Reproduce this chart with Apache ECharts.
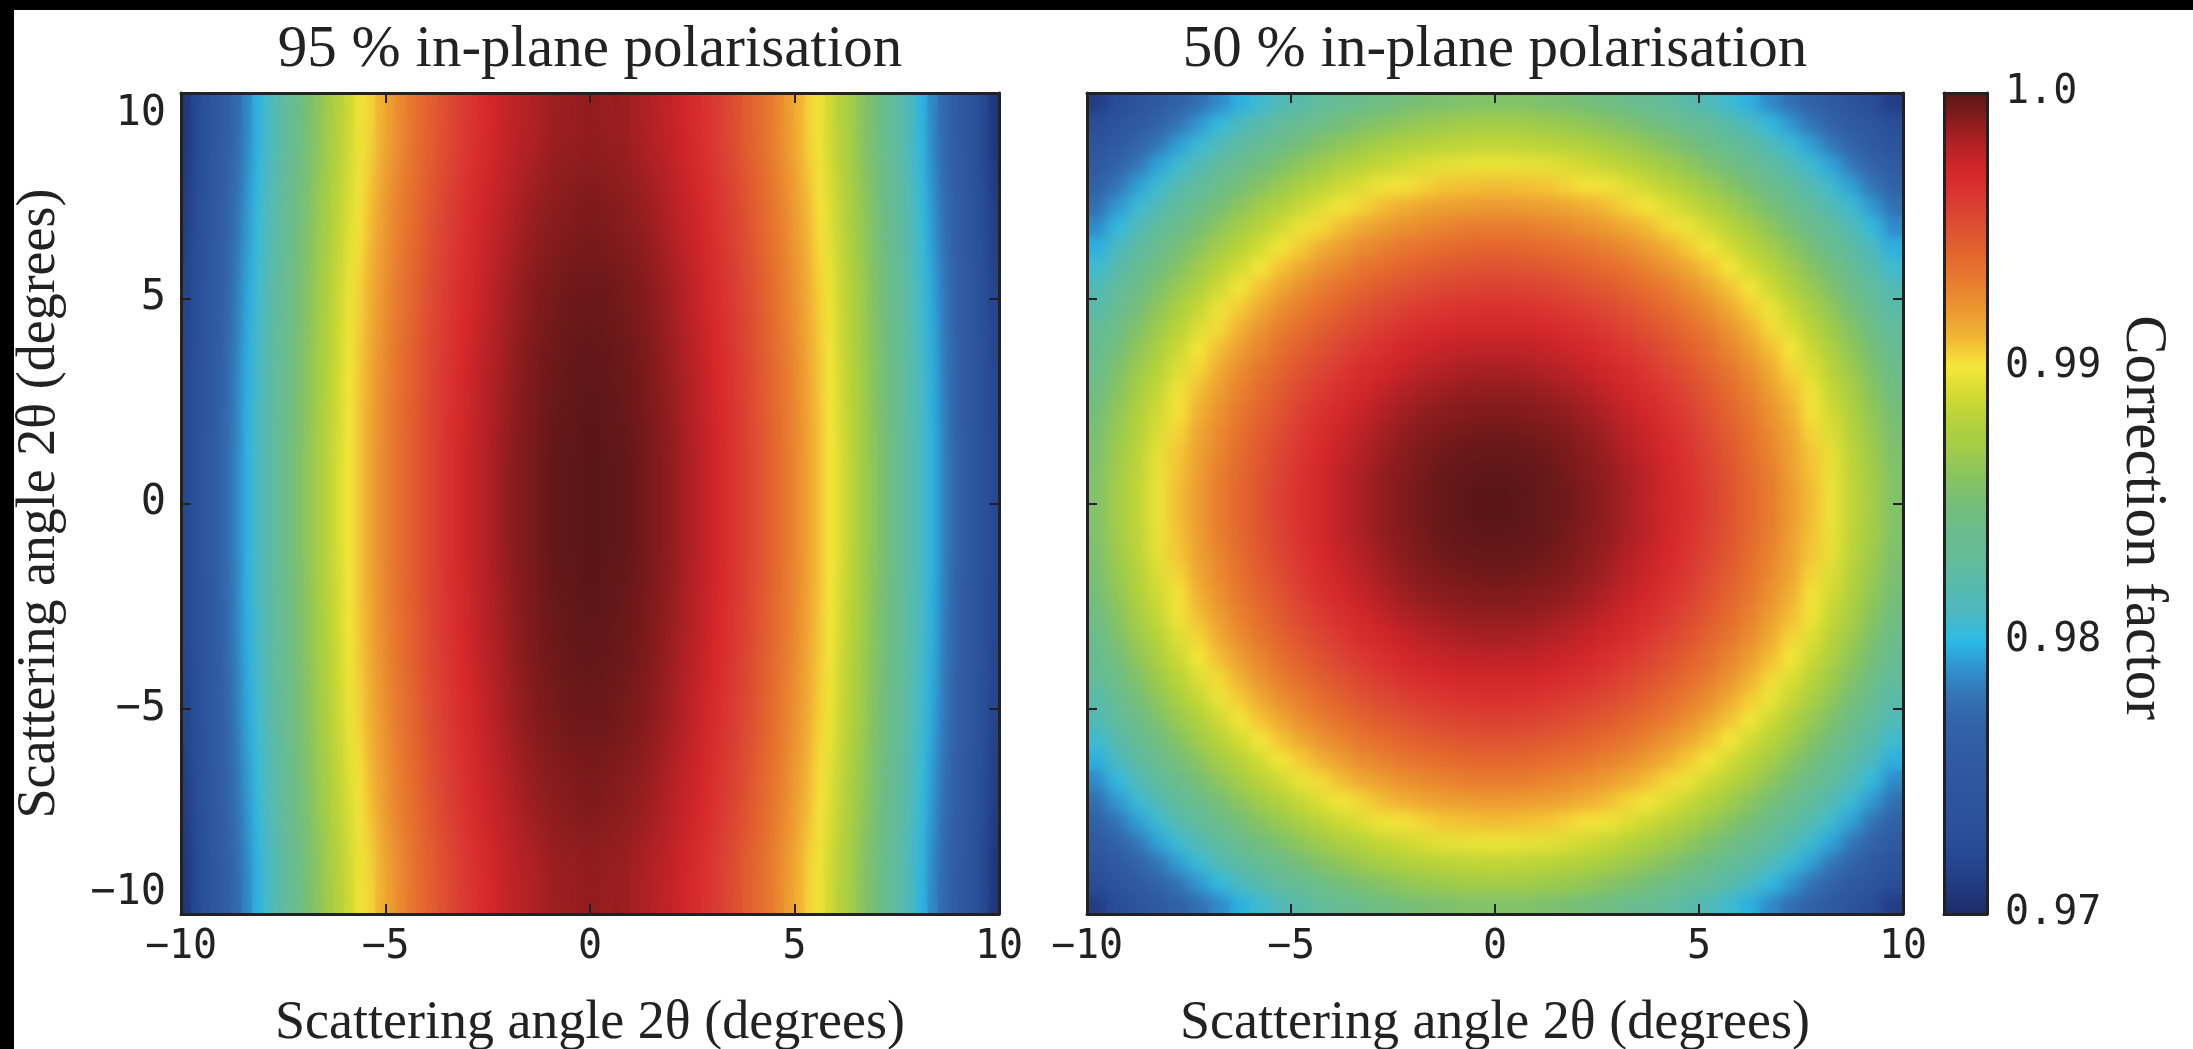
<!DOCTYPE html>
<html><head><meta charset="utf-8">
<script src="https://cdn.jsdelivr.net/npm/echarts@6/dist/echarts.min.js"></script>
<style>
html,body{margin:0;padding:0;background:#fff;overflow:hidden;}
.layer{position:absolute;left:0;top:0;width:2193px;height:1049px;}
#heatSharp{z-index:1;}
#heatBlurL{z-index:2;filter:url(#softL);clip-path:inset(93px 1194px 135px 181px);}
#heatBlurR{z-index:2;filter:url(#softR);clip-path:inset(93px 290px 135px 1087px);}
#chart{z-index:3;}
.edgeTop{position:absolute;left:0;top:0;width:2193px;height:10px;background:#000;z-index:4;}
.edgeLeft{position:absolute;left:0;top:0;width:14px;height:1049px;background:#000;z-index:4;}
</style></head>
<body>
<svg width="0" height="0" style="position:absolute;left:0;top:0">
  <defs>
    <filter id="softL" x="-5%" y="-5%" width="110%" height="110%" color-interpolation-filters="sRGB">
      <feGaussianBlur stdDeviation="4 28"/>
    </filter>
    <filter id="softR" x="-5%" y="-5%" width="110%" height="110%" color-interpolation-filters="sRGB">
      <feGaussianBlur stdDeviation="7 7"/>
    </filter>
  </defs>
</svg>
<div id="heatSharp" class="layer"></div>
<div id="heatBlurL" class="layer"></div>
<div id="heatBlurR" class="layer"></div>
<div id="chart" class="layer"></div>
<div class="edgeTop"></div><div class="edgeLeft"></div>
<script>
// ---------- data ----------
const leftTitle = '95 % in-plane polarisation';
const rightTitle = '50 % in-plane polarisation';
const axisTitle = 'Scattering angle 2\u03b8 (degrees)';
const colorbarTitle = 'Correction factor';
const axisTicks = [-10, -5, 0, 5, 10];
const colorbarTicks = [0.97, 0.98, 0.99, 1.0];

// left panel: cell centres (degrees)
const leftXCenters = [-9.875,-9.625,-9.375,-9.125,-8.875,-8.625,-8.375,-8.125,-7.875,-7.625,-7.375,-7.125,-6.875,-6.625,-6.375,-6.125,-5.875,-5.625,-5.375,-5.125,-4.875,-4.625,-4.375,-4.125,-3.875,-3.625,-3.375,-3.125,-2.875,-2.625,-2.375,-2.125,-1.875,-1.625,-1.375,-1.125,-0.875,-0.625,-0.375,-0.125,0.125,0.375,0.625,0.875,1.125,1.375,1.625,1.875,2.125,2.375,2.625,2.875,3.125,3.375,3.625,3.875,4.125,4.375,4.625,4.875,5.125,5.375,5.625,5.875,6.125,6.375,6.625,6.875,7.125,7.375,7.625,7.875,8.125,8.375,8.625,8.875,9.125,9.375,9.625,9.875];
const leftYCenters = [-9,-7,-5,-3,-1,1,3,5,7,9];
// left panel correction factor, rows from bottom (y=-9) to top (y=9)
const leftValues = [
[0.9708,0.9722,0.9736,0.9749,0.9762,0.9774,0.9786,0.9798,0.9809,0.9821,0.9831,0.9842,0.9852,0.9861,0.9871,0.9880,0.9888,0.9897,0.9904,0.9912,0.9919,0.9926,0.9933,0.9939,0.9944,0.9950,0.9955,0.9960,0.9964,0.9968,0.9972,0.9975,0.9978,0.9980,0.9982,0.9984,0.9986,0.9987,0.9987,0.9988,0.9988,0.9987,0.9987,0.9986,0.9984,0.9982,0.9980,0.9978,0.9975,0.9972,0.9968,0.9964,0.9960,0.9955,0.9950,0.9944,0.9939,0.9933,0.9926,0.9919,0.9912,0.9904,0.9897,0.9888,0.9880,0.9871,0.9861,0.9852,0.9842,0.9831,0.9821,0.9809,0.9798,0.9786,0.9774,0.9762,0.9749,0.9736,0.9722,0.9708],
[0.9713,0.9727,0.9741,0.9754,0.9767,0.9779,0.9791,0.9803,0.9814,0.9825,0.9836,0.9846,0.9856,0.9866,0.9875,0.9884,0.9893,0.9901,0.9909,0.9917,0.9924,0.9931,0.9937,0.9943,0.9949,0.9955,0.9960,0.9964,0.9969,0.9973,0.9976,0.9979,0.9982,0.9985,0.9987,0.9989,0.9990,0.9991,0.9992,0.9993,0.9993,0.9992,0.9991,0.9990,0.9989,0.9987,0.9985,0.9982,0.9979,0.9976,0.9973,0.9969,0.9964,0.9960,0.9955,0.9949,0.9943,0.9937,0.9931,0.9924,0.9917,0.9909,0.9901,0.9893,0.9884,0.9875,0.9866,0.9856,0.9846,0.9836,0.9825,0.9814,0.9803,0.9791,0.9779,0.9767,0.9754,0.9741,0.9727,0.9713],
[0.9717,0.9731,0.9744,0.9757,0.9770,0.9783,0.9795,0.9806,0.9818,0.9829,0.9840,0.9850,0.9860,0.9870,0.9879,0.9888,0.9897,0.9905,0.9913,0.9920,0.9928,0.9934,0.9941,0.9947,0.9953,0.9958,0.9963,0.9968,0.9972,0.9976,0.9980,0.9983,0.9986,0.9989,0.9991,0.9993,0.9994,0.9995,0.9996,0.9996,0.9996,0.9996,0.9995,0.9994,0.9993,0.9991,0.9989,0.9986,0.9983,0.9980,0.9976,0.9972,0.9968,0.9963,0.9958,0.9953,0.9947,0.9941,0.9934,0.9928,0.9920,0.9913,0.9905,0.9897,0.9888,0.9879,0.9870,0.9860,0.9850,0.9840,0.9829,0.9818,0.9806,0.9795,0.9783,0.9770,0.9757,0.9744,0.9731,0.9717],
[0.9719,0.9733,0.9746,0.9760,0.9772,0.9785,0.9797,0.9809,0.9820,0.9831,0.9842,0.9852,0.9862,0.9872,0.9881,0.9890,0.9899,0.9907,0.9915,0.9923,0.9930,0.9937,0.9943,0.9949,0.9955,0.9961,0.9966,0.9970,0.9975,0.9979,0.9982,0.9985,0.9988,0.9991,0.9993,0.9995,0.9996,0.9997,0.9998,0.9999,0.9999,0.9998,0.9997,0.9996,0.9995,0.9993,0.9991,0.9988,0.9985,0.9982,0.9979,0.9975,0.9970,0.9966,0.9961,0.9955,0.9949,0.9943,0.9937,0.9930,0.9923,0.9915,0.9907,0.9899,0.9890,0.9881,0.9872,0.9862,0.9852,0.9842,0.9831,0.9820,0.9809,0.9797,0.9785,0.9772,0.9760,0.9746,0.9733,0.9719],
[0.9720,0.9734,0.9748,0.9761,0.9774,0.9786,0.9798,0.9810,0.9821,0.9832,0.9843,0.9854,0.9864,0.9873,0.9883,0.9892,0.9900,0.9908,0.9916,0.9924,0.9931,0.9938,0.9944,0.9951,0.9956,0.9962,0.9967,0.9972,0.9976,0.9980,0.9983,0.9987,0.9990,0.9992,0.9994,0.9996,0.9998,0.9999,0.9999,1.0000,1.0000,0.9999,0.9999,0.9998,0.9996,0.9994,0.9992,0.9990,0.9987,0.9983,0.9980,0.9976,0.9972,0.9967,0.9962,0.9956,0.9951,0.9944,0.9938,0.9931,0.9924,0.9916,0.9908,0.9900,0.9892,0.9883,0.9873,0.9864,0.9854,0.9843,0.9832,0.9821,0.9810,0.9798,0.9786,0.9774,0.9761,0.9748,0.9734,0.9720],
[0.9720,0.9734,0.9748,0.9761,0.9774,0.9786,0.9798,0.9810,0.9821,0.9832,0.9843,0.9854,0.9864,0.9873,0.9883,0.9892,0.9900,0.9908,0.9916,0.9924,0.9931,0.9938,0.9944,0.9951,0.9956,0.9962,0.9967,0.9972,0.9976,0.9980,0.9983,0.9987,0.9990,0.9992,0.9994,0.9996,0.9998,0.9999,0.9999,1.0000,1.0000,0.9999,0.9999,0.9998,0.9996,0.9994,0.9992,0.9990,0.9987,0.9983,0.9980,0.9976,0.9972,0.9967,0.9962,0.9956,0.9951,0.9944,0.9938,0.9931,0.9924,0.9916,0.9908,0.9900,0.9892,0.9883,0.9873,0.9864,0.9854,0.9843,0.9832,0.9821,0.9810,0.9798,0.9786,0.9774,0.9761,0.9748,0.9734,0.9720],
[0.9719,0.9733,0.9746,0.9760,0.9772,0.9785,0.9797,0.9809,0.9820,0.9831,0.9842,0.9852,0.9862,0.9872,0.9881,0.9890,0.9899,0.9907,0.9915,0.9923,0.9930,0.9937,0.9943,0.9949,0.9955,0.9961,0.9966,0.9970,0.9975,0.9979,0.9982,0.9985,0.9988,0.9991,0.9993,0.9995,0.9996,0.9997,0.9998,0.9999,0.9999,0.9998,0.9997,0.9996,0.9995,0.9993,0.9991,0.9988,0.9985,0.9982,0.9979,0.9975,0.9970,0.9966,0.9961,0.9955,0.9949,0.9943,0.9937,0.9930,0.9923,0.9915,0.9907,0.9899,0.9890,0.9881,0.9872,0.9862,0.9852,0.9842,0.9831,0.9820,0.9809,0.9797,0.9785,0.9772,0.9760,0.9746,0.9733,0.9719],
[0.9717,0.9731,0.9744,0.9757,0.9770,0.9783,0.9795,0.9806,0.9818,0.9829,0.9840,0.9850,0.9860,0.9870,0.9879,0.9888,0.9897,0.9905,0.9913,0.9920,0.9928,0.9934,0.9941,0.9947,0.9953,0.9958,0.9963,0.9968,0.9972,0.9976,0.9980,0.9983,0.9986,0.9989,0.9991,0.9993,0.9994,0.9995,0.9996,0.9996,0.9996,0.9996,0.9995,0.9994,0.9993,0.9991,0.9989,0.9986,0.9983,0.9980,0.9976,0.9972,0.9968,0.9963,0.9958,0.9953,0.9947,0.9941,0.9934,0.9928,0.9920,0.9913,0.9905,0.9897,0.9888,0.9879,0.9870,0.9860,0.9850,0.9840,0.9829,0.9818,0.9806,0.9795,0.9783,0.9770,0.9757,0.9744,0.9731,0.9717],
[0.9713,0.9727,0.9741,0.9754,0.9767,0.9779,0.9791,0.9803,0.9814,0.9825,0.9836,0.9846,0.9856,0.9866,0.9875,0.9884,0.9893,0.9901,0.9909,0.9917,0.9924,0.9931,0.9937,0.9943,0.9949,0.9955,0.9960,0.9964,0.9969,0.9973,0.9976,0.9979,0.9982,0.9985,0.9987,0.9989,0.9990,0.9991,0.9992,0.9993,0.9993,0.9992,0.9991,0.9990,0.9989,0.9987,0.9985,0.9982,0.9979,0.9976,0.9973,0.9969,0.9964,0.9960,0.9955,0.9949,0.9943,0.9937,0.9931,0.9924,0.9917,0.9909,0.9901,0.9893,0.9884,0.9875,0.9866,0.9856,0.9846,0.9836,0.9825,0.9814,0.9803,0.9791,0.9779,0.9767,0.9754,0.9741,0.9727,0.9713],
[0.9708,0.9722,0.9736,0.9749,0.9762,0.9774,0.9786,0.9798,0.9809,0.9821,0.9831,0.9842,0.9852,0.9861,0.9871,0.9880,0.9888,0.9897,0.9904,0.9912,0.9919,0.9926,0.9933,0.9939,0.9944,0.9950,0.9955,0.9960,0.9964,0.9968,0.9972,0.9975,0.9978,0.9980,0.9982,0.9984,0.9986,0.9987,0.9987,0.9988,0.9988,0.9987,0.9987,0.9986,0.9984,0.9982,0.9980,0.9978,0.9975,0.9972,0.9968,0.9964,0.9960,0.9955,0.9950,0.9944,0.9939,0.9933,0.9926,0.9919,0.9912,0.9904,0.9897,0.9888,0.9880,0.9871,0.9861,0.9852,0.9842,0.9831,0.9821,0.9809,0.9798,0.9786,0.9774,0.9762,0.9749,0.9736,0.9722,0.9708]
];

// right panel: cell centres (degrees), same for x and y
const rightCenters = [-9.75,-9.25,-8.75,-8.25,-7.75,-7.25,-6.75,-6.25,-5.75,-5.25,-4.75,-4.25,-3.75,-3.25,-2.75,-2.25,-1.75,-1.25,-0.75,-0.25,0.25,0.75,1.25,1.75,2.25,2.75,3.25,3.75,4.25,4.75,5.25,5.75,6.25,6.75,7.25,7.75,8.25,8.75,9.25,9.75];
// right panel correction factor, rows from bottom (y=-9.75) to top (y=9.75)
const rightValues = [
[0.9713,0.9727,0.9741,0.9754,0.9766,0.9777,0.9787,0.9797,0.9806,0.9815,0.9822,0.9829,0.9835,0.9840,0.9845,0.9849,0.9852,0.9854,0.9856,0.9856,0.9856,0.9856,0.9854,0.9852,0.9849,0.9845,0.9840,0.9835,0.9829,0.9822,0.9815,0.9806,0.9797,0.9787,0.9777,0.9766,0.9754,0.9741,0.9727,0.9713],
[0.9727,0.9742,0.9755,0.9768,0.9780,0.9791,0.9802,0.9811,0.9821,0.9829,0.9836,0.9843,0.9849,0.9855,0.9859,0.9863,0.9866,0.9868,0.9870,0.9871,0.9871,0.9870,0.9868,0.9866,0.9863,0.9859,0.9855,0.9849,0.9843,0.9836,0.9829,0.9821,0.9811,0.9802,0.9791,0.9780,0.9768,0.9755,0.9742,0.9727],
[0.9741,0.9755,0.9769,0.9781,0.9793,0.9805,0.9815,0.9825,0.9834,0.9842,0.9850,0.9857,0.9863,0.9868,0.9873,0.9877,0.9880,0.9882,0.9883,0.9884,0.9884,0.9883,0.9882,0.9880,0.9877,0.9873,0.9868,0.9863,0.9857,0.9850,0.9842,0.9834,0.9825,0.9815,0.9805,0.9793,0.9781,0.9769,0.9755,0.9741],
[0.9754,0.9768,0.9781,0.9794,0.9806,0.9817,0.9828,0.9838,0.9847,0.9855,0.9863,0.9869,0.9876,0.9881,0.9885,0.9889,0.9892,0.9895,0.9896,0.9897,0.9897,0.9896,0.9895,0.9892,0.9889,0.9885,0.9881,0.9876,0.9869,0.9863,0.9855,0.9847,0.9838,0.9828,0.9817,0.9806,0.9794,0.9781,0.9768,0.9754],
[0.9766,0.9780,0.9793,0.9806,0.9818,0.9829,0.9840,0.9850,0.9859,0.9867,0.9875,0.9882,0.9888,0.9893,0.9898,0.9901,0.9904,0.9907,0.9908,0.9909,0.9909,0.9908,0.9907,0.9904,0.9901,0.9898,0.9893,0.9888,0.9882,0.9875,0.9867,0.9859,0.9850,0.9840,0.9829,0.9818,0.9806,0.9793,0.9780,0.9766],
[0.9777,0.9791,0.9805,0.9817,0.9829,0.9841,0.9851,0.9861,0.9870,0.9878,0.9886,0.9893,0.9899,0.9904,0.9909,0.9913,0.9916,0.9918,0.9919,0.9920,0.9920,0.9919,0.9918,0.9916,0.9913,0.9909,0.9904,0.9899,0.9893,0.9886,0.9878,0.9870,0.9861,0.9851,0.9841,0.9829,0.9817,0.9805,0.9791,0.9777],
[0.9787,0.9802,0.9815,0.9828,0.9840,0.9851,0.9862,0.9872,0.9881,0.9889,0.9897,0.9903,0.9909,0.9915,0.9919,0.9923,0.9926,0.9928,0.9930,0.9931,0.9931,0.9930,0.9928,0.9926,0.9923,0.9919,0.9915,0.9909,0.9903,0.9897,0.9889,0.9881,0.9872,0.9862,0.9851,0.9840,0.9828,0.9815,0.9802,0.9787],
[0.9797,0.9811,0.9825,0.9838,0.9850,0.9861,0.9872,0.9881,0.9890,0.9899,0.9906,0.9913,0.9919,0.9925,0.9929,0.9933,0.9936,0.9938,0.9940,0.9941,0.9941,0.9940,0.9938,0.9936,0.9933,0.9929,0.9925,0.9919,0.9913,0.9906,0.9899,0.9890,0.9881,0.9872,0.9861,0.9850,0.9838,0.9825,0.9811,0.9797],
[0.9806,0.9821,0.9834,0.9847,0.9859,0.9870,0.9881,0.9890,0.9900,0.9908,0.9915,0.9922,0.9928,0.9934,0.9938,0.9942,0.9945,0.9947,0.9949,0.9950,0.9950,0.9949,0.9947,0.9945,0.9942,0.9938,0.9934,0.9928,0.9922,0.9915,0.9908,0.9900,0.9890,0.9881,0.9870,0.9859,0.9847,0.9834,0.9821,0.9806],
[0.9815,0.9829,0.9842,0.9855,0.9867,0.9878,0.9889,0.9899,0.9908,0.9916,0.9924,0.9931,0.9937,0.9942,0.9947,0.9950,0.9953,0.9956,0.9957,0.9958,0.9958,0.9957,0.9956,0.9953,0.9950,0.9947,0.9942,0.9937,0.9931,0.9924,0.9916,0.9908,0.9899,0.9889,0.9878,0.9867,0.9855,0.9842,0.9829,0.9815],
[0.9822,0.9836,0.9850,0.9863,0.9875,0.9886,0.9897,0.9906,0.9915,0.9924,0.9931,0.9938,0.9944,0.9950,0.9954,0.9958,0.9961,0.9963,0.9965,0.9966,0.9966,0.9965,0.9963,0.9961,0.9958,0.9954,0.9950,0.9944,0.9938,0.9931,0.9924,0.9915,0.9906,0.9897,0.9886,0.9875,0.9863,0.9850,0.9836,0.9822],
[0.9829,0.9843,0.9857,0.9869,0.9882,0.9893,0.9903,0.9913,0.9922,0.9931,0.9938,0.9945,0.9951,0.9956,0.9961,0.9965,0.9968,0.9970,0.9972,0.9972,0.9972,0.9972,0.9970,0.9968,0.9965,0.9961,0.9956,0.9951,0.9945,0.9938,0.9931,0.9922,0.9913,0.9903,0.9893,0.9882,0.9869,0.9857,0.9843,0.9829],
[0.9835,0.9849,0.9863,0.9876,0.9888,0.9899,0.9909,0.9919,0.9928,0.9937,0.9944,0.9951,0.9957,0.9962,0.9967,0.9971,0.9974,0.9976,0.9978,0.9978,0.9978,0.9978,0.9976,0.9974,0.9971,0.9967,0.9962,0.9957,0.9951,0.9944,0.9937,0.9928,0.9919,0.9909,0.9899,0.9888,0.9876,0.9863,0.9849,0.9835],
[0.9840,0.9855,0.9868,0.9881,0.9893,0.9904,0.9915,0.9925,0.9934,0.9942,0.9950,0.9956,0.9962,0.9968,0.9972,0.9976,0.9979,0.9981,0.9983,0.9984,0.9984,0.9983,0.9981,0.9979,0.9976,0.9972,0.9968,0.9962,0.9956,0.9950,0.9942,0.9934,0.9925,0.9915,0.9904,0.9893,0.9881,0.9868,0.9855,0.9840],
[0.9845,0.9859,0.9873,0.9885,0.9898,0.9909,0.9919,0.9929,0.9938,0.9947,0.9954,0.9961,0.9967,0.9972,0.9977,0.9981,0.9984,0.9986,0.9988,0.9988,0.9988,0.9988,0.9986,0.9984,0.9981,0.9977,0.9972,0.9967,0.9961,0.9954,0.9947,0.9938,0.9929,0.9919,0.9909,0.9898,0.9885,0.9873,0.9859,0.9845],
[0.9849,0.9863,0.9877,0.9889,0.9901,0.9913,0.9923,0.9933,0.9942,0.9950,0.9958,0.9965,0.9971,0.9976,0.9981,0.9985,0.9988,0.9990,0.9991,0.9992,0.9992,0.9991,0.9990,0.9988,0.9985,0.9981,0.9976,0.9971,0.9965,0.9958,0.9950,0.9942,0.9933,0.9923,0.9913,0.9901,0.9889,0.9877,0.9863,0.9849],
[0.9852,0.9866,0.9880,0.9892,0.9904,0.9916,0.9926,0.9936,0.9945,0.9953,0.9961,0.9968,0.9974,0.9979,0.9984,0.9988,0.9991,0.9993,0.9994,0.9995,0.9995,0.9994,0.9993,0.9991,0.9988,0.9984,0.9979,0.9974,0.9968,0.9961,0.9953,0.9945,0.9936,0.9926,0.9916,0.9904,0.9892,0.9880,0.9866,0.9852],
[0.9854,0.9868,0.9882,0.9895,0.9907,0.9918,0.9928,0.9938,0.9947,0.9956,0.9963,0.9970,0.9976,0.9981,0.9986,0.9990,0.9993,0.9995,0.9997,0.9997,0.9997,0.9997,0.9995,0.9993,0.9990,0.9986,0.9981,0.9976,0.9970,0.9963,0.9956,0.9947,0.9938,0.9928,0.9918,0.9907,0.9895,0.9882,0.9868,0.9854],
[0.9856,0.9870,0.9883,0.9896,0.9908,0.9919,0.9930,0.9940,0.9949,0.9957,0.9965,0.9972,0.9978,0.9983,0.9988,0.9991,0.9994,0.9997,0.9998,0.9999,0.9999,0.9998,0.9997,0.9994,0.9991,0.9988,0.9983,0.9978,0.9972,0.9965,0.9957,0.9949,0.9940,0.9930,0.9919,0.9908,0.9896,0.9883,0.9870,0.9856],
[0.9856,0.9871,0.9884,0.9897,0.9909,0.9920,0.9931,0.9941,0.9950,0.9958,0.9966,0.9972,0.9978,0.9984,0.9988,0.9992,0.9995,0.9997,0.9999,1.0000,1.0000,0.9999,0.9997,0.9995,0.9992,0.9988,0.9984,0.9978,0.9972,0.9966,0.9958,0.9950,0.9941,0.9931,0.9920,0.9909,0.9897,0.9884,0.9871,0.9856],
[0.9856,0.9871,0.9884,0.9897,0.9909,0.9920,0.9931,0.9941,0.9950,0.9958,0.9966,0.9972,0.9978,0.9984,0.9988,0.9992,0.9995,0.9997,0.9999,1.0000,1.0000,0.9999,0.9997,0.9995,0.9992,0.9988,0.9984,0.9978,0.9972,0.9966,0.9958,0.9950,0.9941,0.9931,0.9920,0.9909,0.9897,0.9884,0.9871,0.9856],
[0.9856,0.9870,0.9883,0.9896,0.9908,0.9919,0.9930,0.9940,0.9949,0.9957,0.9965,0.9972,0.9978,0.9983,0.9988,0.9991,0.9994,0.9997,0.9998,0.9999,0.9999,0.9998,0.9997,0.9994,0.9991,0.9988,0.9983,0.9978,0.9972,0.9965,0.9957,0.9949,0.9940,0.9930,0.9919,0.9908,0.9896,0.9883,0.9870,0.9856],
[0.9854,0.9868,0.9882,0.9895,0.9907,0.9918,0.9928,0.9938,0.9947,0.9956,0.9963,0.9970,0.9976,0.9981,0.9986,0.9990,0.9993,0.9995,0.9997,0.9997,0.9997,0.9997,0.9995,0.9993,0.9990,0.9986,0.9981,0.9976,0.9970,0.9963,0.9956,0.9947,0.9938,0.9928,0.9918,0.9907,0.9895,0.9882,0.9868,0.9854],
[0.9852,0.9866,0.9880,0.9892,0.9904,0.9916,0.9926,0.9936,0.9945,0.9953,0.9961,0.9968,0.9974,0.9979,0.9984,0.9988,0.9991,0.9993,0.9994,0.9995,0.9995,0.9994,0.9993,0.9991,0.9988,0.9984,0.9979,0.9974,0.9968,0.9961,0.9953,0.9945,0.9936,0.9926,0.9916,0.9904,0.9892,0.9880,0.9866,0.9852],
[0.9849,0.9863,0.9877,0.9889,0.9901,0.9913,0.9923,0.9933,0.9942,0.9950,0.9958,0.9965,0.9971,0.9976,0.9981,0.9985,0.9988,0.9990,0.9991,0.9992,0.9992,0.9991,0.9990,0.9988,0.9985,0.9981,0.9976,0.9971,0.9965,0.9958,0.9950,0.9942,0.9933,0.9923,0.9913,0.9901,0.9889,0.9877,0.9863,0.9849],
[0.9845,0.9859,0.9873,0.9885,0.9898,0.9909,0.9919,0.9929,0.9938,0.9947,0.9954,0.9961,0.9967,0.9972,0.9977,0.9981,0.9984,0.9986,0.9988,0.9988,0.9988,0.9988,0.9986,0.9984,0.9981,0.9977,0.9972,0.9967,0.9961,0.9954,0.9947,0.9938,0.9929,0.9919,0.9909,0.9898,0.9885,0.9873,0.9859,0.9845],
[0.9840,0.9855,0.9868,0.9881,0.9893,0.9904,0.9915,0.9925,0.9934,0.9942,0.9950,0.9956,0.9962,0.9968,0.9972,0.9976,0.9979,0.9981,0.9983,0.9984,0.9984,0.9983,0.9981,0.9979,0.9976,0.9972,0.9968,0.9962,0.9956,0.9950,0.9942,0.9934,0.9925,0.9915,0.9904,0.9893,0.9881,0.9868,0.9855,0.9840],
[0.9835,0.9849,0.9863,0.9876,0.9888,0.9899,0.9909,0.9919,0.9928,0.9937,0.9944,0.9951,0.9957,0.9962,0.9967,0.9971,0.9974,0.9976,0.9978,0.9978,0.9978,0.9978,0.9976,0.9974,0.9971,0.9967,0.9962,0.9957,0.9951,0.9944,0.9937,0.9928,0.9919,0.9909,0.9899,0.9888,0.9876,0.9863,0.9849,0.9835],
[0.9829,0.9843,0.9857,0.9869,0.9882,0.9893,0.9903,0.9913,0.9922,0.9931,0.9938,0.9945,0.9951,0.9956,0.9961,0.9965,0.9968,0.9970,0.9972,0.9972,0.9972,0.9972,0.9970,0.9968,0.9965,0.9961,0.9956,0.9951,0.9945,0.9938,0.9931,0.9922,0.9913,0.9903,0.9893,0.9882,0.9869,0.9857,0.9843,0.9829],
[0.9822,0.9836,0.9850,0.9863,0.9875,0.9886,0.9897,0.9906,0.9915,0.9924,0.9931,0.9938,0.9944,0.9950,0.9954,0.9958,0.9961,0.9963,0.9965,0.9966,0.9966,0.9965,0.9963,0.9961,0.9958,0.9954,0.9950,0.9944,0.9938,0.9931,0.9924,0.9915,0.9906,0.9897,0.9886,0.9875,0.9863,0.9850,0.9836,0.9822],
[0.9815,0.9829,0.9842,0.9855,0.9867,0.9878,0.9889,0.9899,0.9908,0.9916,0.9924,0.9931,0.9937,0.9942,0.9947,0.9950,0.9953,0.9956,0.9957,0.9958,0.9958,0.9957,0.9956,0.9953,0.9950,0.9947,0.9942,0.9937,0.9931,0.9924,0.9916,0.9908,0.9899,0.9889,0.9878,0.9867,0.9855,0.9842,0.9829,0.9815],
[0.9806,0.9821,0.9834,0.9847,0.9859,0.9870,0.9881,0.9890,0.9900,0.9908,0.9915,0.9922,0.9928,0.9934,0.9938,0.9942,0.9945,0.9947,0.9949,0.9950,0.9950,0.9949,0.9947,0.9945,0.9942,0.9938,0.9934,0.9928,0.9922,0.9915,0.9908,0.9900,0.9890,0.9881,0.9870,0.9859,0.9847,0.9834,0.9821,0.9806],
[0.9797,0.9811,0.9825,0.9838,0.9850,0.9861,0.9872,0.9881,0.9890,0.9899,0.9906,0.9913,0.9919,0.9925,0.9929,0.9933,0.9936,0.9938,0.9940,0.9941,0.9941,0.9940,0.9938,0.9936,0.9933,0.9929,0.9925,0.9919,0.9913,0.9906,0.9899,0.9890,0.9881,0.9872,0.9861,0.9850,0.9838,0.9825,0.9811,0.9797],
[0.9787,0.9802,0.9815,0.9828,0.9840,0.9851,0.9862,0.9872,0.9881,0.9889,0.9897,0.9903,0.9909,0.9915,0.9919,0.9923,0.9926,0.9928,0.9930,0.9931,0.9931,0.9930,0.9928,0.9926,0.9923,0.9919,0.9915,0.9909,0.9903,0.9897,0.9889,0.9881,0.9872,0.9862,0.9851,0.9840,0.9828,0.9815,0.9802,0.9787],
[0.9777,0.9791,0.9805,0.9817,0.9829,0.9841,0.9851,0.9861,0.9870,0.9878,0.9886,0.9893,0.9899,0.9904,0.9909,0.9913,0.9916,0.9918,0.9919,0.9920,0.9920,0.9919,0.9918,0.9916,0.9913,0.9909,0.9904,0.9899,0.9893,0.9886,0.9878,0.9870,0.9861,0.9851,0.9841,0.9829,0.9817,0.9805,0.9791,0.9777],
[0.9766,0.9780,0.9793,0.9806,0.9818,0.9829,0.9840,0.9850,0.9859,0.9867,0.9875,0.9882,0.9888,0.9893,0.9898,0.9901,0.9904,0.9907,0.9908,0.9909,0.9909,0.9908,0.9907,0.9904,0.9901,0.9898,0.9893,0.9888,0.9882,0.9875,0.9867,0.9859,0.9850,0.9840,0.9829,0.9818,0.9806,0.9793,0.9780,0.9766],
[0.9754,0.9768,0.9781,0.9794,0.9806,0.9817,0.9828,0.9838,0.9847,0.9855,0.9863,0.9869,0.9876,0.9881,0.9885,0.9889,0.9892,0.9895,0.9896,0.9897,0.9897,0.9896,0.9895,0.9892,0.9889,0.9885,0.9881,0.9876,0.9869,0.9863,0.9855,0.9847,0.9838,0.9828,0.9817,0.9806,0.9794,0.9781,0.9768,0.9754],
[0.9741,0.9755,0.9769,0.9781,0.9793,0.9805,0.9815,0.9825,0.9834,0.9842,0.9850,0.9857,0.9863,0.9868,0.9873,0.9877,0.9880,0.9882,0.9883,0.9884,0.9884,0.9883,0.9882,0.9880,0.9877,0.9873,0.9868,0.9863,0.9857,0.9850,0.9842,0.9834,0.9825,0.9815,0.9805,0.9793,0.9781,0.9769,0.9755,0.9741],
[0.9727,0.9742,0.9755,0.9768,0.9780,0.9791,0.9802,0.9811,0.9821,0.9829,0.9836,0.9843,0.9849,0.9855,0.9859,0.9863,0.9866,0.9868,0.9870,0.9871,0.9871,0.9870,0.9868,0.9866,0.9863,0.9859,0.9855,0.9849,0.9843,0.9836,0.9829,0.9821,0.9811,0.9802,0.9791,0.9780,0.9768,0.9755,0.9742,0.9727],
[0.9713,0.9727,0.9741,0.9754,0.9766,0.9777,0.9787,0.9797,0.9806,0.9815,0.9822,0.9829,0.9835,0.9840,0.9845,0.9849,0.9852,0.9854,0.9856,0.9856,0.9856,0.9856,0.9854,0.9852,0.9849,0.9845,0.9840,0.9835,0.9829,0.9822,0.9815,0.9806,0.9797,0.9787,0.9777,0.9766,0.9754,0.9741,0.9727,0.9713]
];

// colour scale of the colour bar, from 0.970 (bottom) to 1.000 (top)
const colorbarColors = ['#1e2c66','#213a80','#264892','#2a509a','#2c549c','#2e58a0','#305ca4','#3264aa','#3474b4','#3094d0','#2cbce8','#4cb8c0','#58baac','#64bc98','#6abc8c','#76be78','#88c460','#a2cc48','#b4d23a','#d4da32','#f6e83a','#f2b834','#ec9a31','#e87e2f','#e4682e','#df5231','#da3c34','#d8282a','#b82226','#8a1c1e','#5a1616'];

// ---------- chart ----------
const MONO = 'DejaVu Sans Mono';
const SERIF = 'Liberation Serif';
const INK = '#222222';
const plotGrids = [
  { left: 181, top: 93, width: 818, height: 821, outerBoundsMode: 'none' },
  { left: 1087, top: 93, width: 816, height: 821, outerBoundsMode: 'none' }
];
const colorbarGrid = { left: 1944, top: 93, width: 43, height: 821, outerBoundsMode: 'none' };

function toCells(rows) {
  const out = [];
  rows.forEach((row, yi) => row.forEach((v, xi) => out.push([xi, yi, v])));
  return out;
}
function tickFmt(v) { return String(v).replace('-', '\u2212'); }
function catAxis(gridIndex, data) {
  return { type: 'category', gridIndex, data, show: false, boundaryGap: true };
}
const colorScale = {
  type: 'continuous', min: colorbarTicks[0], max: colorbarTicks[colorbarTicks.length - 1],
  dimension: 2, calculable: false, hoverLink: false, inRange: { color: colorbarColors }
};

// heatmap layer (drawn sharp, plus a softened copy to imitate interpolated shading)
function heatOption() {
  return {
    animation: false,
    grid: plotGrids,
    xAxis: [catAxis(0, leftXCenters), catAxis(1, rightCenters)],
    yAxis: [catAxis(0, leftYCenters), catAxis(1, rightCenters)],
    visualMap: Object.assign({ show: false, seriesIndex: [0, 1] }, colorScale),
    series: [
      { type: 'heatmap', xAxisIndex: 0, yAxisIndex: 0, data: toCells(leftValues), progressive: 0, emphasis: { disabled: true } },
      { type: 'heatmap', xAxisIndex: 1, yAxisIndex: 1, data: toCells(rightValues), progressive: 0, emphasis: { disabled: true } }
    ]
  };
}

function valAxis(gridIndex, position, showLabel, extra, labelExtra) {
  return Object.assign({
    type: 'value', gridIndex, position, min: axisTicks[0], max: axisTicks[axisTicks.length - 1], interval: 5, z: 10,
    axisLine: { show: true, onZero: false, lineStyle: { color: INK, width: 3 } },
    axisTick: { show: true, inside: true, length: 10, lineStyle: { color: INK, width: 2 } },
    axisLabel: Object.assign({ show: showLabel, fontFamily: MONO, fontSize: 40, color: INK, margin: 14, formatter: tickFmt }, labelExtra || {}),
    splitLine: { show: false }
  }, extra || {});
}
function frameAxis(gridIndex, position) {
  return {
    type: 'value', gridIndex, position, min: 0, max: 1, z: 10,
    axisLine: { show: true, onZero: false, lineStyle: { color: INK, width: 3 } },
    axisTick: { show: false }, axisLabel: { show: false }, splitLine: { show: false }
  };
}
const titleStyle = { fontFamily: SERIF, fontSize: 59, color: INK };
const nameStyle = { fontFamily: SERIF, fontSize: 54, color: INK };

const frameOption = {
  animation: false,
  backgroundColor: 'transparent',
  grid: [plotGrids[0], plotGrids[1], colorbarGrid],
  xAxis: [
    valAxis(0, 'bottom', true, { name: axisTitle, nameLocation: 'middle', nameGap: 83, nameTextStyle: nameStyle }),
    valAxis(0, 'top', false, { name: leftTitle, nameLocation: 'middle', nameGap: 13, nameTextStyle: titleStyle }),
    valAxis(1, 'bottom', true, { name: axisTitle, nameLocation: 'middle', nameGap: 83, nameTextStyle: nameStyle }),
    valAxis(1, 'top', false, { name: rightTitle, nameLocation: 'middle', nameGap: 13, nameTextStyle: titleStyle }),
    frameAxis(2, 'bottom'),
    frameAxis(2, 'top')
  ],
  yAxis: [
    valAxis(0, 'left', true, { name: axisTitle, nameLocation: 'middle', nameGap: 114, nameRotate: 90, nameTextStyle: nameStyle },
      { fontSize: 42, margin: 15, verticalAlignMaxLabel: 'top', verticalAlignMinLabel: 'bottom' }),
    valAxis(0, 'right', false),
    valAxis(1, 'left', false),
    valAxis(1, 'right', false),
    {
      type: 'value', gridIndex: 2, position: 'right', min: colorbarTicks[0], max: colorbarTicks[colorbarTicks.length - 1], interval: 0.01, z: 10,
      axisLine: { show: true, onZero: false, lineStyle: { color: INK, width: 3 } },
      axisTick: { show: false }, splitLine: { show: false },
      axisLabel: { show: true, fontFamily: MONO, fontSize: 40, color: INK, margin: 18,
        formatter: v => (Math.abs(v - 1) < 1e-9 ? '1.0' : v.toFixed(2)) },
      name: colorbarTitle, nameLocation: 'middle', nameRotate: -90, nameGap: 126,
      nameTextStyle: { fontFamily: SERIF, fontSize: 59, color: INK, padding: [0, 0, 0, 28] }
    },
    frameAxis(2, 'left')
  ],
  visualMap: Object.assign({
    orient: 'vertical', left: colorbarGrid.left, top: colorbarGrid.top,
    itemWidth: colorbarGrid.width, itemHeight: colorbarGrid.height, padding: 0, seriesIndex: []
  }, colorScale),
  series: []
};

echarts.init(document.getElementById('heatSharp'), null, { renderer: 'canvas' }).setOption(heatOption());
echarts.init(document.getElementById('heatBlurL'), null, { renderer: 'canvas' }).setOption(heatOption());
echarts.init(document.getElementById('heatBlurR'), null, { renderer: 'canvas' }).setOption(heatOption());
echarts.init(document.getElementById('chart'), null, { renderer: 'canvas' }).setOption(frameOption);
</script>
</body></html>
